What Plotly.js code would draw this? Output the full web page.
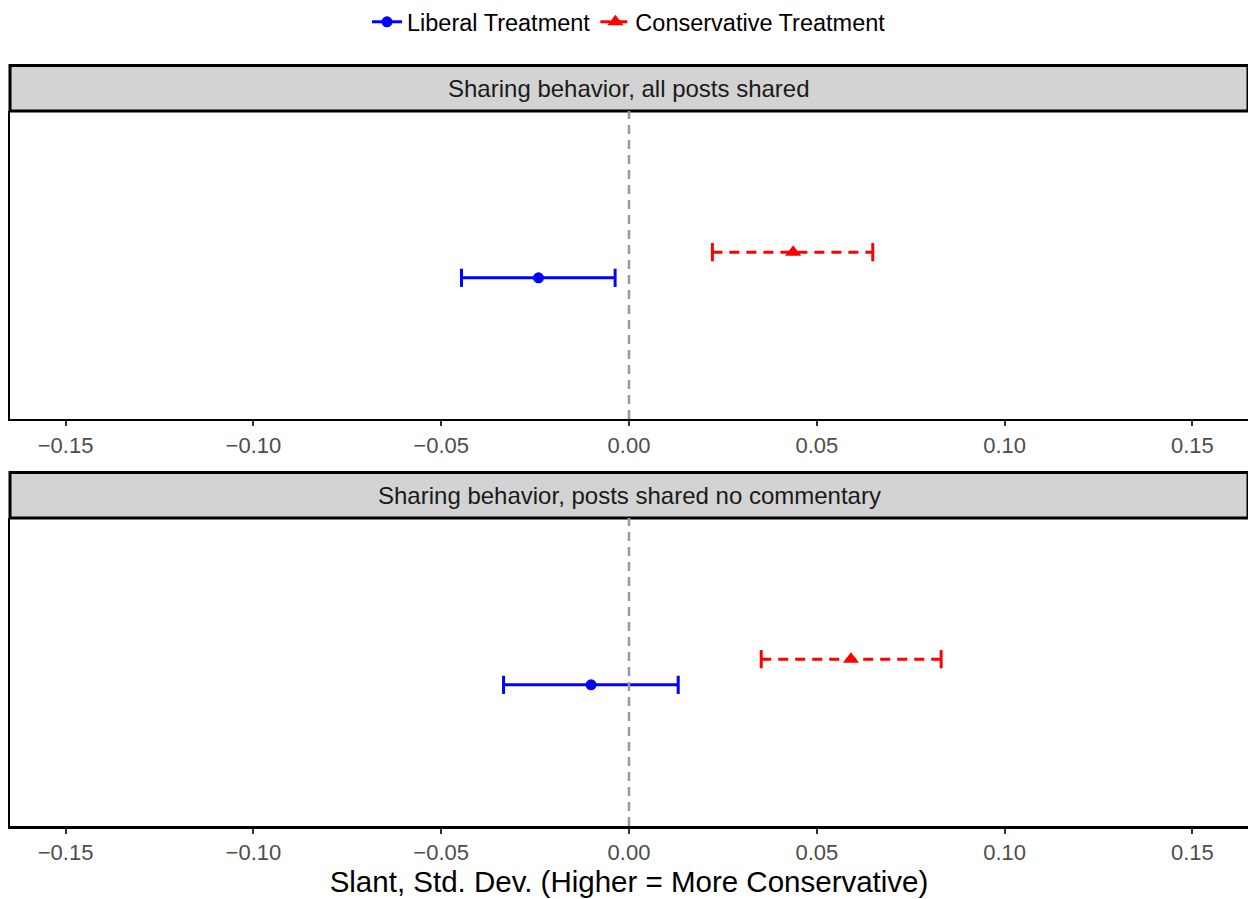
<!DOCTYPE html>
<html>
<head>
<meta charset="utf-8">
<script src="https://cdn.plot.ly/plotly-3.0.1.min.js"></script>
<style>html,body{margin:0;padding:0;background:#fff;}#chart{width:1248px;height:899px;}</style>
</head>
<body>
<div id="chart"></div>
<script>
// ---- data ----
const panels = ['Sharing behavior, all posts shared', 'Sharing behavior, posts shared no commentary'];
const seriesNames = ['Liberal Treatment', 'Conservative Treatment'];
const libEst = [-0.0241, -0.0101];
const libLo  = [-0.0446, -0.0334];
const libHi  = [-0.0037,  0.0131];
const conEst = [0.0437, 0.0591];
const conLo  = [0.0222, 0.0352];
const conHi  = [0.0649, 0.0831];
const dodge = [0.95, 1.05];           // liberal, conservative position within panel
const xTicks = [-0.15, -0.10, -0.05, 0.00, 0.05, 0.10, 0.15];
const xTitle = 'Slant, Std. Dev. (Higher = More Conservative)';

const FONT = 'Liberation Sans, Arial, Helvetica, sans-serif';
const BLUE = '#0000ff', RED = '#ff0000';
const RED_DASH = '10px,7px';

const series = [
  {name: seriesNames[0], est: libEst, lo: libLo, hi: libHi, y: dodge[0], color: BLUE, dash: 'solid', symbol: 'circle', size: 11},
  {name: seriesNames[1], est: conEst, lo: conLo, hi: conHi, y: dodge[1], color: RED, dash: RED_DASH, symbol: 'triangle-up', size: 14}
];

const traces = [];
panels.forEach((p, i) => {
  const xa = i === 0 ? 'x' : 'x2';
  const ya = i === 0 ? 'y' : 'y2';
  series.forEach(s => {
    // confidence interval with caps
    traces.push({
      type: 'scatter', mode: 'lines+markers', xaxis: xa, yaxis: ya,
      x: [s.lo[i], s.hi[i]], y: [s.y, s.y],
      line: {color: s.color, width: 3, dash: s.dash},
      marker: {symbol: 'line-ns', size: 13, line: {color: s.color, width: 3}},
      showlegend: false, hoverinfo: 'skip'
    });
  });
});
panels.forEach((p, i) => {
  const xa = i === 0 ? 'x' : 'x2';
  const ya = i === 0 ? 'y' : 'y2';
  series.forEach(s => {
    traces.push({
      type: 'scatter', mode: 'lines+markers', xaxis: xa, yaxis: ya,
      x: [s.est[i]], y: [s.y], name: s.name, legendgroup: s.name,
      line: {color: s.color, width: 3, dash: s.dash},
      marker: {symbol: s.symbol, size: s.size, color: s.color},
      showlegend: i === 0
    });
  });
});

const H = 722; // plot area height in px
const topDom = [411 / H, 1];
const botDom = [0, 311 / H];

function xaxisDef(anchor, withTitle) {
  const a = {
    anchor: anchor, range: [-0.1648, 0.1648], tickvals: xTicks, tickformat: '.2f',
    ticks: 'outside', ticklen: 5, tickwidth: 2, tickcolor: '#333333',
    tickfont: {family: FONT, size: 22, color: '#4d4d4d'},
    showline: true, linecolor: '#000000', linewidth: 2.5, mirror: false,
    showgrid: false, zeroline: false, automargin: false, fixedrange: true
  };
  if (withTitle) a.title = {text: xTitle, font: {family: FONT, size: 29.5, color: '#000000'}, standoff: 8};
  return a;
}
function yaxisDef(anchor, dom) {
  return {
    anchor: anchor, domain: dom, range: [0.4, 1.6],
    showticklabels: false, ticks: '', showgrid: false, zeroline: false,
    showline: true, linecolor: '#000000', linewidth: 2.5, automargin: false, fixedrange: true
  };
}

const shapes = [];
const annotations = [];
const stripBounds = [[1, 1 + 46 / H], [(826 - 469) / H - 46 / H, (826 - 469) / H]];
panels.forEach((p, i) => {
  shapes.push({type: 'rect', xref: 'paper', yref: 'paper', x0: 0, x1: 1,
    y0: stripBounds[i][0], y1: stripBounds[i][1],
    fillcolor: '#d3d3d3', line: {color: '#000000', width: 3}, layer: 'above'});
  annotations.push({xref: 'paper', yref: 'paper', x: 0.5, y: (stripBounds[i][0] + stripBounds[i][1]) / 2,
    text: p, showarrow: false, xanchor: 'center', yanchor: 'middle',
    font: {family: FONT, size: 24, color: '#1a1a1a'}});
  shapes.push({type: 'line', xref: i === 0 ? 'x' : 'x2', yref: i === 0 ? 'y domain' : 'y2 domain',
    x0: 0, x1: 0, y0: 0, y1: 1, line: {color: '#9a9a9a', width: 2.5, dash: '9px,6px'}, layer: 'above'});
});

const layout = {
  width: 1248, height: 899,
  margin: {l: 10, r: 0, t: 104, b: 73},
  paper_bgcolor: '#ffffff', plot_bgcolor: '#ffffff',
  font: {family: FONT},
  xaxis: xaxisDef('y', false),
  yaxis: yaxisDef('x', topDom),
  xaxis2: xaxisDef('y2', true),
  yaxis2: yaxisDef('x2', botDom),
  shapes: shapes,
  annotations: annotations,
  showlegend: true,
  legend: {orientation: 'h', x: 0.5, xanchor: 'center', y: 1 + 90 / H, yanchor: 'middle',
    font: {family: FONT, size: 23.5, color: '#000000'}, bgcolor: 'rgba(0,0,0,0)',
    itemclick: false, itemdoubleclick: false, tracegroupgap: 0},
  hovermode: false
};

Plotly.newPlot('chart', traces, layout, {staticPlot: true, displayModeBar: false});
</script>
</body>
</html>
